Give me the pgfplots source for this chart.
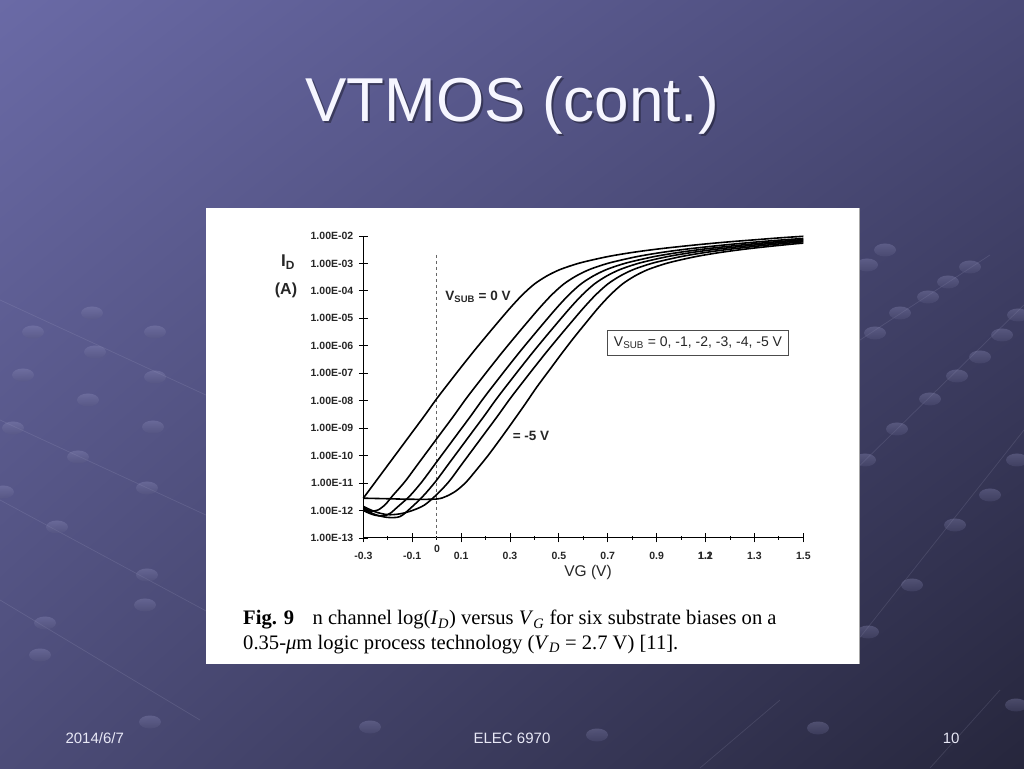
\documentclass[border=0pt]{standalone}
\usepackage{fontspec}
\setmainfont{Liberation Serif}
\newfontfamily\arial{Liberation Sans}
\usepackage{pgfplots}
\pgfplotsset{compat=1.18}
\usetikzlibrary{shadings}

\definecolor{bgTL}{RGB}{106,106,166}
\definecolor{bgTR}{RGB}{74,74,120}
\definecolor{bgBL}{RGB}{76,76,120}
\definecolor{bgBR}{RGB}{38,38,60}
\definecolor{bub}{RGB}{128,128,184}
\definecolor{titlec}{RGB}{246,246,255}
\definecolor{footc}{RGB}{232,232,246}

\newcommand\fs[1]{\fontsize{#1}{#1}\selectfont}

\begin{document}
\begin{tikzpicture}
\useasboundingbox (0,0) rectangle (1024pt,768pt);
\shade[upper left=bgTL, upper right=bgTR, lower left=bgBL, lower right=bgBR] (0,0) rectangle (1024pt,768pt);

% faint network lines of the slide theme
\begin{scope}[draw=bub!50!white, opacity=0.15, line width=0.7pt]
  \draw (0pt,{(768-300)*1pt}) -- (260pt,{(768-420)*1pt});
  \draw (0pt,{(768-420)*1pt}) -- (260pt,{(768-540)*1pt});
  \draw (0pt,{(768-500)*1pt}) -- (260pt,{(768-640)*1pt});
  \draw (0pt,{(768-600)*1pt}) -- (200pt,{(768-720)*1pt});
  \draw (850pt,{(768-650)*1pt}) -- (1024pt,{(768-430)*1pt});
  \draw (850pt,{(768-475)*1pt}) -- (1024pt,{(768-305)*1pt});
  \draw (860pt,{(768-340)*1pt}) -- (990pt,{(768-255)*1pt});
  \draw (700pt,{(768-768)*1pt}) -- (780pt,{(768-700)*1pt});
  \draw (930pt,{(768-768)*1pt}) -- (1000pt,{(768-690)*1pt});
\end{scope}
\foreach \x/\y in {92/313,33/332,155/332,95/352,23/375,155/377,88/400,13/428,153/427,78/457,3/492,147/488,57/527,147/575,45/623,
  885/250,867/265,970/267,948/282,928/297,900/313,875/333,1018/315,1002/335,980/357,957/376,930/399,897/429,865/460,1017/460,990/495,955/525,912/585,868/632,
  150/722,370/727,597/735,818/728,1016/705,40/655,145/605}
  \shade[top color=bub!80!white, bottom color=bub!70!black, opacity=0.3] ({\x*1pt},{(768-\y)*1pt}) ellipse (11pt and 6.5pt);

% title
\node[font=\arial\fs{62}, text=black, opacity=0.35, anchor=base] at (514pt,644pt) {VTMOS (cont.)};
\node[font=\arial\fs{62}, text=titlec, anchor=base] at (512pt,646pt) {VTMOS (cont.)};

% footer
\node[font=\arial\fs{15}, text=footc, anchor=base west] at (62pt,25pt) {2014/6/7};
\node[font=\arial\fs{15}, text=footc, anchor=base] at (512pt,25pt) {ELEC 6970};
\node[font=\arial\fs{15}, text=footc, anchor=base east] at (963pt,25pt) {10};

% white figure panel
\fill[white] (206pt,104pt) rectangle (859pt,560pt);
\draw[gray!70, line width=0.8pt] (859pt,104pt) -- (859pt,560pt);

\begin{axis}[
  at={(363.3pt,230pt)}, anchor=south west,
  scale only axis, width=440pt, height=302pt,
  xmin=-0.3, xmax=1.5, ymin=-13, ymax=-2,
  clip=false,
  axis x line=bottom, axis y line=left,
  axis line style={-, black, line width=1pt},
  tick align=center,
  major tick length=9pt, minor tick length=4pt,
  every tick/.style={black, line width=0.9pt},
  xtick={-0.3,-0.1,0.1,0.3,0.5,0.7,0.9,1.1,1.3,1.5},
  minor xtick={-0.2,0,0.2,0.4,0.6,0.8,1.0,1.2,1.4},
  xticklabels={-0.3,-0.1,0.1,0.3,0.5,0.7,0.9,\makebox[0pt]{1.1}\makebox[0pt]{1.2},1.3,1.5},
  ytick={-13,-12,-11,-10,-9,-8,-7,-6,-5,-4,-3,-2},
  yticklabels={1.00E-13,1.00E-12,1.00E-11,1.00E-10,1.00E-09,1.00E-08,1.00E-07,1.00E-06,1.00E-05,1.00E-04,1.00E-03,1.00E-02},
  xticklabel style={font=\arial\bfseries\fs{10.5}, text=black!85, yshift=-6pt},
  yticklabel style={font=\arial\bfseries\fs{10.5}, text=black!85, xshift=-2pt},
]
% gate voltage 0 V marker
\addplot[gray!80!black, line width=0.7pt, dash pattern=on 3pt off 3pt] coordinates {(0,-2.69) (0,-13)};

% VSUB = 0 V
\addplot[black, line width=1.6pt, smooth] coordinates {
(-0.30,-11.55) (-0.25,-10.95) (-0.20,-10.35) (-0.15,-9.75) (-0.10,-9.15) (-0.05,-8.55)
(0.00,-7.93) (0.05,-7.35) (0.10,-6.78) (0.15,-6.22) (0.20,-5.68) (0.25,-5.15) (0.30,-4.63)
(0.35,-4.15) (0.40,-3.75) (0.45,-3.46) (0.50,-3.24) (0.55,-3.08) (0.60,-2.95) (0.70,-2.75)
(0.80,-2.60) (0.90,-2.48) (1.00,-2.38) (1.10,-2.29) (1.20,-2.21) (1.30,-2.14) (1.40,-2.07) (1.50,-2.01)};
% VSUB = -1 V
\addplot[black, line width=1.6pt, smooth] coordinates {
(-0.30,-11.90) (-0.27,-12.02) (-0.24,-11.98) (-0.21,-11.78) (-0.18,-11.46) (-0.13,-10.95) (-0.08,-10.35)
(-0.03,-9.75) (0.02,-9.15) (0.07,-8.55) (0.12,-7.93) (0.17,-7.35) (0.22,-6.78) (0.27,-6.22)
(0.32,-5.68) (0.37,-5.15) (0.42,-4.63) (0.47,-4.15) (0.52,-3.75) (0.57,-3.46) (0.62,-3.24)
(0.67,-3.08) (0.72,-2.95) (0.82,-2.75) (0.92,-2.60) (1.02,-2.48) (1.12,-2.38) (1.22,-2.29)
(1.32,-2.21) (1.42,-2.14) (1.50,-2.09)};
% VSUB = -2 V
\addplot[black, line width=1.6pt, smooth] coordinates {
(-0.30,-12.00) (-0.26,-12.15) (-0.22,-12.20) (-0.19,-12.10) (-0.16,-11.87) (-0.11,-11.47)
(-0.06,-10.95) (-0.01,-10.35) (0.04,-9.75) (0.09,-9.15) (0.14,-8.55) (0.19,-7.93) (0.24,-7.35)
(0.29,-6.78) (0.34,-6.22) (0.39,-5.68) (0.44,-5.15) (0.49,-4.63) (0.54,-4.15) (0.59,-3.75)
(0.64,-3.46) (0.69,-3.24) (0.74,-3.08) (0.79,-2.95) (0.89,-2.75) (0.99,-2.60) (1.09,-2.48)
(1.19,-2.38) (1.29,-2.29) (1.39,-2.21) (1.50,-2.13)};
% VSUB = -3 V
\addplot[black, line width=1.6pt, smooth] coordinates {
(-0.30,-11.95) (-0.25,-12.15) (-0.20,-12.25) (-0.15,-12.22) (-0.105,-11.90) (-0.055,-11.47)
(-0.005,-10.95) (0.045,-10.35) (0.095,-9.75) (0.145,-9.15) (0.195,-8.55) (0.245,-7.93)
(0.295,-7.35) (0.345,-6.78) (0.395,-6.22) (0.445,-5.68) (0.495,-5.15) (0.545,-4.63)
(0.595,-4.15) (0.645,-3.75) (0.695,-3.46) (0.745,-3.24) (0.795,-3.08) (0.845,-2.95)
(0.945,-2.75) (1.045,-2.60) (1.145,-2.48) (1.245,-2.38) (1.345,-2.29) (1.445,-2.21) (1.50,-2.17)};
% VSUB = -4 V
\addplot[black, line width=1.6pt, smooth] coordinates {
(-0.30,-11.85) (-0.25,-12.05) (-0.20,-12.15) (-0.15,-12.12) (-0.10,-12.00) (-0.05,-11.80)
(0.00,-11.42) (0.05,-10.95) (0.10,-10.35) (0.15,-9.75) (0.20,-9.15) (0.25,-8.55) (0.30,-7.93)
(0.35,-7.35) (0.40,-6.78) (0.45,-6.22) (0.50,-5.68) (0.55,-5.15) (0.60,-4.63) (0.65,-4.15)
(0.70,-3.75) (0.75,-3.46) (0.80,-3.24) (0.85,-3.08) (0.90,-2.95) (1.00,-2.75) (1.10,-2.60)
(1.20,-2.48) (1.30,-2.38) (1.40,-2.29) (1.50,-2.21)};
% VSUB = -5 V
\addplot[black, line width=1.6pt, smooth] coordinates {
(-0.30,-11.55) (-0.20,-11.57) (-0.10,-11.59) (0.00,-11.58) (0.04,-11.48) (0.08,-11.28)
(0.12,-10.97) (0.16,-10.55) (0.21,-10.00) (0.26,-9.40) (0.31,-8.78) (0.36,-8.15) (0.41,-7.50)
(0.46,-6.90) (0.51,-6.30) (0.56,-5.72) (0.61,-5.17) (0.66,-4.63) (0.71,-4.15) (0.76,-3.75)
(0.81,-3.46) (0.86,-3.24) (0.91,-3.08) (0.96,-2.95) (1.06,-2.75) (1.16,-2.60) (1.26,-2.48)
(1.36,-2.38) (1.46,-2.29) (1.50,-2.26)};
\end{axis}

% chart texts
\node[font=\arial\bfseries\fs{10.5}, text=black!85] at (437pt,219.5pt) {0};
\node[font=\arial\fs{15.5}, text=black!85] at (588pt,196pt) {VG (V)};
\node[font=\arial\bfseries\fs{17}, text=black!85] at (288pt,506pt) {I\textsubscript{D}};
\node[font=\arial\bfseries\fs{16}, text=black!85] at (286pt,478pt) {(A)};
\node[font=\arial\bfseries\fs{13.5}, text=black!85] at (478pt,471pt) {V\textsubscript{SUB} = 0 V};
\node[font=\arial\bfseries\fs{13.5}, text=black!85] at (531pt,332pt) {= -5 V};
\draw[black!70, line width=0.9pt] (607.5pt,413pt) rectangle (788.5pt,438pt);
\node[font=\arial\fs{14}, text=black!85] at (698pt,425.5pt) {V\textsubscript{SUB} = 0, -1, -2, -3, -4, -5 V};

% caption
\node[font=\fs{20.6}, anchor=base west, inner sep=0pt] at (243pt,143pt)
  {\textbf{Fig. 9}\hspace{0.9em}n channel log(\textit{I}\textsubscript{\textit{D}}) versus \textit{V}\textsubscript{\textit{G}} for six substrate biases on a};
\node[font=\fs{20.6}, anchor=base west, inner sep=0pt] at (243pt,119pt)
  {0.35-\textit{μ}m logic process technology (\textit{V}\textsubscript{\textit{D}} = 2.7 V) [11].};
\end{tikzpicture}
\end{document}
